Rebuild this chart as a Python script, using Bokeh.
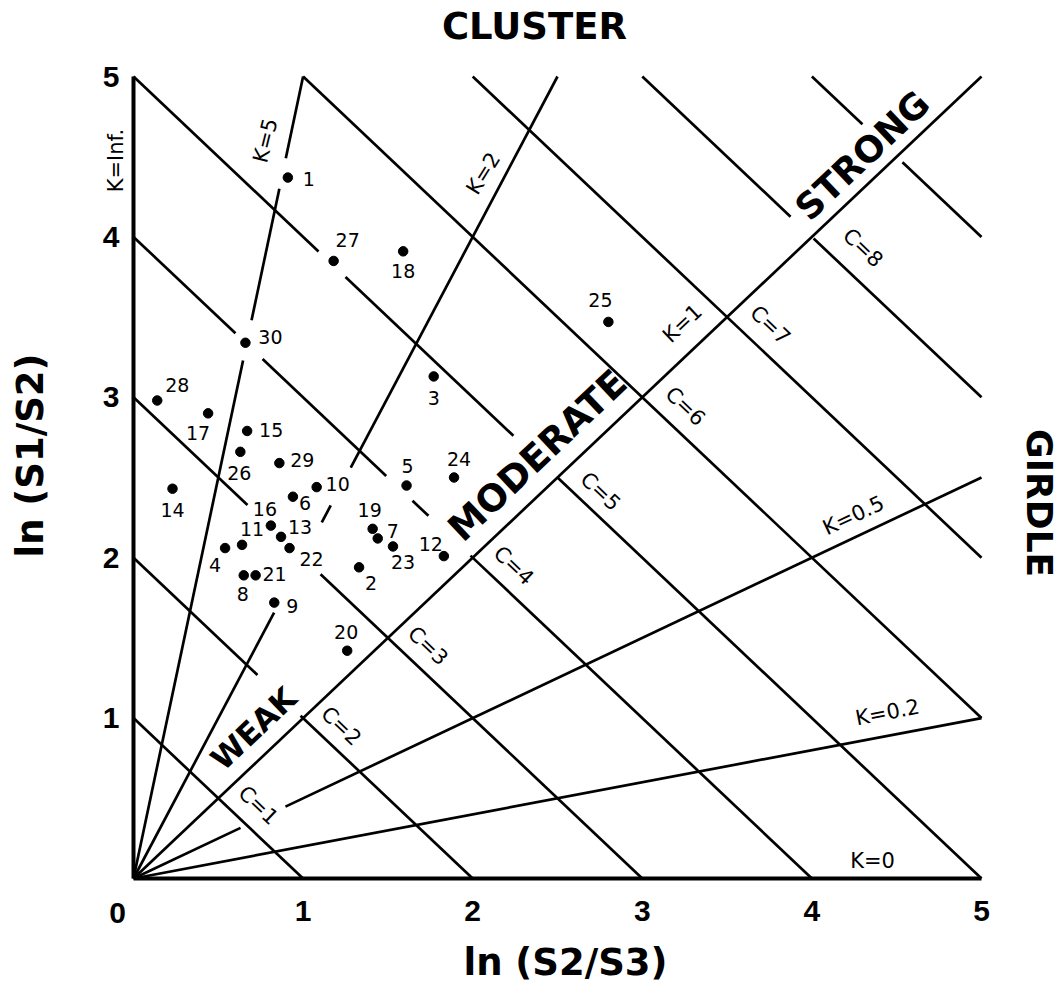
import math
from bokeh.plotting import figure
from bokeh.models import Range1d, Label, FixedTicker
from bokeh.core.properties import value
from bokeh.embed import file_html
from bokeh.resources import INLINE

# ---------------- data ----------------
point_ids = [str(i) for i in range(1, 31)]
point_x = [0.91, 1.33, 1.77, 0.54, 1.61, 0.94, 1.44, 0.65, 0.83, 1.08,
           0.64, 1.83, 0.87, 0.23, 0.67, 0.81, 0.44, 1.59, 1.41, 1.26,
           0.72, 0.92, 1.53, 1.89, 2.80, 0.63, 1.18, 0.14, 0.86, 0.66]
point_y = [4.37, 1.94, 3.13, 2.06, 2.45, 2.38, 2.12, 1.89, 1.72, 2.44,
           2.08, 2.01, 2.13, 2.43, 2.79, 2.20, 2.90, 3.91, 2.18, 1.42,
           1.89, 2.06, 2.07, 2.50, 3.47, 2.66, 3.85, 2.98, 2.59, 3.34]

k_values = [5, 2, 1, 0.5, 0.2]
k_texts = ["K=Inf.", "K=5", "K=2", "K=1", "K=0.5", "K=0.2", "K=0"]
c_values = [1, 2, 3, 4, 5, 6, 7, 8, 9]
c_texts = ["C=1", "C=2", "C=3", "C=4", "C=5", "C=6", "C=7", "C=8"]
zone_texts = ["WEAK", "MODERATE", "STRONG"]
axis_ticks = [1, 2, 3, 4, 5]
origin_text = "0"
x_title = "ln (S2/S3)"
y_title = "ln (S1/S2)"
top_title = "CLUSTER"
right_title = "GIRDLE"

# ---------------- layout / style ----------------
W, H = 1060, 986
# pixel position of the data box (0..5) inside the canvas
BOX_L, BOX_R, BOX_T, BOX_B = 133, 981, 76, 878
SX = (BOX_R - BOX_L) / 5.0
SY = (BOX_B - BOX_T) / 5.0
X0, X1 = -BOX_L / SX, 5 + (W - BOX_R) / SX
Y0, Y1 = -(H - BOX_B) / SY, 5 + BOX_T / SY


def off(dx, dy):
    """pixel offset (right, down) -> data offset"""
    return dx / SX, -dy / SY


FONT = "DejaVu Sans"
LW = 2.7

# gaps (in data x) where the printed lines are interrupted
k_gaps = {5: [(0.646, 0.696), (0.86, 0.898)],
          2: [(0.829, 1.11), (1.163, 1.281)],
          1: [],
          0.5: [(0.631, 0.896)],
          0.2: []}
c_gaps = {1: [], 2: [(0.731, 0.985)], 3: [(0.672, 1.103)],
          4: [(0.601, 0.761), (1.49, 1.645), (1.739, 1.987)],
          5: [(1.091, 1.25), (2.24, 2.5)], 6: [], 7: [],
          8: [(3.874, 4.01)], 9: [(4.298, 4.534)]}

# label offsets of the point numbers (pixels: right, down)
pt_off = [(21, 1), (12, 16), (0, 22), (-10, 17), (1, -20), (12, 6), (15, -7),
          (-1, 19), (18, 3), (21, -3), (10, -16), (-13, -12), (19, -10),
          (0, 21), (24, -1), (-6, -17), (-10, 20), (0, 20), (-3, -19),
          (-1, -19), (19, -1), (22, 11), (10, 16), (5, -19), (-8, -22),
          (-1, 21), (14, -21), (20, -16), (23, -3), (25, -6)]

# C label offsets from the K=1 crossing (pixels: right, down)
c_off = [(40, 7), (38, 8), (40, 8), (41, 8), (43, 14), (43, 9), (43, 8), (51, 11)]

# K label placement (data x, data y, angle deg)
k_lab_pos = [(-0.106, 4.476, 90), (0.778, 4.601, 76), (2.063, 4.395, 58),
             (3.237, 3.46, 43.4), (4.245, 2.263, 25), (4.446, 1.035, 11),
             (4.358, 0.112, 0)]
zone_pos = [(0.708, 0.935, 31), (2.382, 2.637, 37), (4.298, 4.508, 36)]


def segments(x0, y0, x1, y1, gaps):
    def yat(x):
        return y0 + (y1 - y0) * (x - x0) / (x1 - x0)
    xs, ys = [], []
    start = x0
    for a, b in sorted(gaps):
        xs.append([start, a]); ys.append([yat(start), yat(a)])
        start = b
    xs.append([start, x1]); ys.append([yat(start), yat(x1)])
    return xs, ys


p = figure(width=W, height=H, x_range=Range1d(X0, X1), y_range=Range1d(Y0, Y1),
           output_backend="svg", toolbar_location=None, min_border=0)
p.title.visible = False
p.outline_line_color = None
p.grid.visible = False
p.background_fill_color = "white"
p.border_fill_color = "white"

for ax in (p.xaxis, p.yaxis):
    ax.fixed_location = 0
    ax.bounds = (0, 5)
    ax.ticker = FixedTicker(ticks=axis_ticks)
    ax.axis_line_width = 4
    ax.axis_line_color = "black"
    ax.major_tick_line_color = None
    ax.minor_tick_line_color = None
    ax.major_label_text_font = "Liberation Sans"
    ax.major_label_text_font_style = "bold"
    ax.major_label_text_font_size = "30px"
    ax.major_label_text_color = "black"
p.xaxis.major_label_standoff = 16
p.yaxis.major_label_standoff = 8

# K lines (through the origin)
all_xs, all_ys = [], []
for k in k_values:
    if k >= 1:
        x1, y1 = 5.0 / k, 5.0
    else:
        x1, y1 = 5.0, 5.0 * k
    xs, ys = segments(0.0, 0.0, x1, y1, k_gaps[k])
    all_xs += xs; all_ys += ys
# C lines (x + y = C)
for c in c_values:
    x0, y0 = max(0.0, c - 5.0), min(5.0, c)
    x1, y1 = min(5.0, c), max(0.0, c - 5.0)
    xs, ys = segments(x0, y0, x1, y1, c_gaps[c])
    all_xs += xs; all_ys += ys
p.multi_line(all_xs, all_ys, line_color="black", line_width=LW)

# points
p.scatter(point_x, point_y, size=9.5, color="black")
lx = [x + off(*o)[0] for x, o in zip(point_x, pt_off)]
ly = [y + off(*o)[1] for y, o in zip(point_y, pt_off)]
p.text(lx, ly, text=point_ids, text_font=value(FONT), text_font_size="19px",
       text_align="center", text_baseline="middle", text_color="black")


def lab(x, y, t, size, angle=0.0, bold=False, font=FONT):
    p.add_layout(Label(x=x, y=y, text=t, angle=angle, text_font=font,
                       text_font_style="bold" if bold else "normal",
                       text_font_size=f"{size}px", text_color="black",
                       text_align="center", text_baseline="middle"))


# C labels
c_ang = -math.atan(SY / SX)
for c, t, o in zip(c_values, c_texts, c_off):
    dx, dy = off(*o)
    lab(c / 2 + dx, c / 2 + dy, t, 21, c_ang)

# K labels
for t, (x, y, a) in zip(k_texts, k_lab_pos):
    lab(x, y, t, 21, math.radians(a))

# zone labels
for t, (x, y, fs) in zip(zone_texts, zone_pos):
    lab(x, y, t, fs, math.atan(SY / SX), bold=True)

# titles
lab(2.364, 5.312, top_title, 37, bold=True)
lab(5.342, 2.34, right_title, 36, -math.pi / 2, bold=True)
lab(2.547, -0.524, x_title, 37, bold=True)
lab(-0.607, 2.637, y_title, 37, math.pi / 2, bold=True)
lab(-0.094, -0.212, origin_text, 30, bold=True, font="Liberation Sans")

open("out.html", "w").write(file_html(p, INLINE))
